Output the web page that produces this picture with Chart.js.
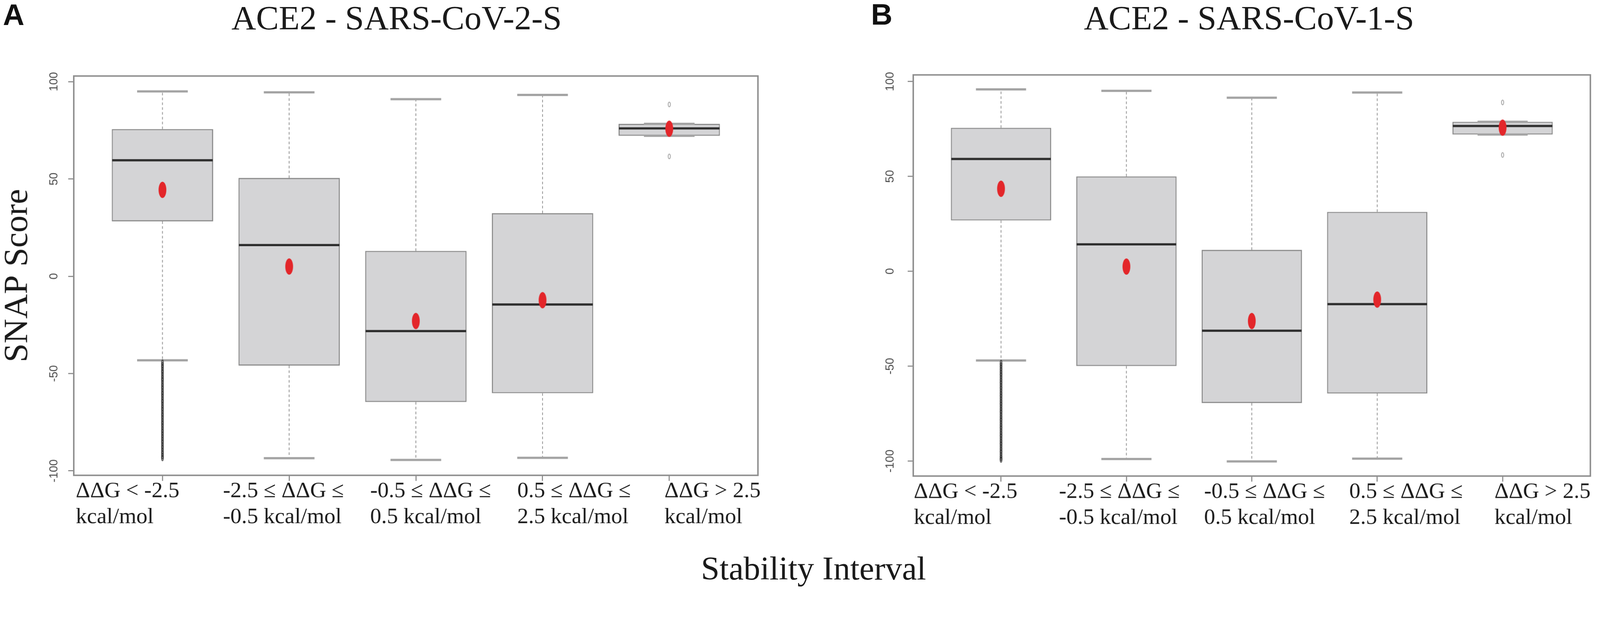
<!DOCTYPE html>
<html>
<head>
<meta charset="utf-8">
<title>ACE2 SNAP score by stability interval</title>
<script src="https://cdn.jsdelivr.net/npm/chart.js@4.4.0/dist/chart.umd.min.js"></script>
<style>
  html, body { margin: 0; padding: 0; background: #fff; overflow: hidden; }
  #stage { position: absolute; left: 0; top: 0; width: 4317px; height: 1602px; transform-origin: 0 0; }
  canvas { position: absolute; top: 0; }
  .txt { position: absolute; white-space: nowrap; line-height: 1; color: #1a1a1a; }
  .serif { font-family: 'Liberation Serif', 'Times New Roman', serif; }
  .panel { font-family: 'Liberation Sans', Arial, sans-serif; font-weight: bold; font-size: 80px; color: #111; }
  .centered { transform: translateX(-50%); }
</style>
</head>
<body>
<div id="stage">
  <canvas id="chartA" width="2140" height="1602" style="left:0px"></canvas>
  <canvas id="chartB" width="2117" height="1602" style="left:2200px"></canvas>

  <div class="txt panel" style="left:8px; top:0px">A</div>
  <div class="txt panel" style="left:2350px; top:-1px">B</div>
  <div class="txt serif centered" style="left:1070px; top:2px; font-size:92px">ACE2 - SARS-CoV-2-S</div>
  <div class="txt serif centered" style="left:3370px; top:2px; font-size:92px">ACE2 - SARS-CoV-1-S</div>
  <div class="txt serif centered" style="left:2195px; top:1488px; font-size:90px">Stability Interval</div>
</div>

<script>
// x categories (positions 1..5) and their two-line labels
const categoryPositions = [1, 2, 3, 4, 5];
const categoryLabels = [
    ['ΔΔG < -2.5', 'kcal/mol'],
    ['-2.5 ≤ ΔΔG ≤', '-0.5 kcal/mol'],
    ['-0.5 ≤ ΔΔG ≤', '0.5 kcal/mol'],
    ['0.5 ≤ ΔΔG ≤', '2.5 kcal/mol'],
    ['ΔΔG > 2.5', 'kcal/mol']
];
const yTickValues = [-100, -50, 0, 50, 100];

// Panel A: ACE2 - SARS-CoV-2-S
const cov2WhiskerLow  = [-43.2, -93.5, -94.4, -93.3, 72.2];
const cov2Q1          = [28.2, -45.9, -64.6, -60.1, 72.2];
const cov2Median      = [59.6, 16.0, -28.2, -14.5, 76.0];
const cov2Q3          = [75.6, 50.5, 13.0, 32.4, 78.3];
const cov2WhiskerHigh = [95.0, 94.5, 91.0, 93.2, 78.3];
const cov2Mean        = [44.4, 5.0, -23.0, -12.3, 75.8];
// outliers below the first box (dense column) and around the last box
const cov2OutliersFirst = [-44.3, -45.6, -46.8, -48.3, -49.5, -51.0, -52.4, -53.6, -55.1, -56.5,
    -57.8, -59.3, -60.6, -62.0, -63.5, -64.7, -66.2, -67.6, -68.9, -70.4, -71.7, -73.1, -74.6,
    -75.9, -77.3, -78.8, -80.1, -81.5, -82.9, -84.3, -85.6, -87.1, -88.4, -89.9, -91.2, -92.5, -93.5];
const cov2OutliersLast = [88.3, 61.6];

// Panel B: ACE2 - SARS-CoV-1-S
const cov1WhiskerLow  = [-47.0, -98.9, -100.2, -98.7, 72.1];
const cov1Q1          = [26.8, -49.9, -69.4, -64.4, 72.1];
const cov1Median      = [59.2, 14.2, -31.3, -17.3, 76.6];
const cov1Q3          = [75.6, 50.0, 11.3, 31.3, 78.8];
const cov1WhiskerHigh = [95.9, 95.1, 91.5, 94.2, 78.8];
const cov1Mean        = [43.5, 2.5, -26.2, -14.9, 75.7];
const cov1OutliersFirst = [-48.2, -49.5, -50.9, -52.3, -53.7, -55.0, -56.5, -57.9, -59.2, -60.7,
    -62.0, -63.5, -64.9, -66.2, -67.7, -69.1, -70.4, -71.9, -73.3, -74.6, -76.1, -77.5, -78.8,
    -80.3, -81.7, -83.0, -84.5, -85.9, -87.2, -88.7, -90.1, -91.4, -92.9, -94.3, -95.6, -97.1,
    -98.4, -99.3];
const cov1OutliersLast = [89.0, 61.3];

// the page is laid out at 4317x1602; shrink it if the window is narrower
const stage = document.getElementById('stage');
const fit = Math.min(1, window.innerWidth / 4317);
stage.style.transform = 'scale(' + fit + ')';

// small canvases used as point styles (the figure was squeezed sideways, so dots are tall ellipses)
function ellipseMark(w, h, fill, stroke, lw) {
    const c = document.createElement('canvas');
    c.width = w + 4;
    c.height = h + 4;
    const g = c.getContext('2d');
    g.beginPath();
    g.ellipse(c.width / 2, c.height / 2, w / 2, h / 2, 0, 0, Math.PI * 2);
    if (fill) { g.fillStyle = fill; g.fill(); }
    if (stroke) { g.lineWidth = lw; g.strokeStyle = stroke; g.stroke(); }
    return c;
}
const meanMark = ellipseMark(21, 44, '#e3262a');
const columnMark = ellipseMark(5, 14, 'rgba(60,60,60,0.35)', 'rgba(30,30,30,0.8)', 1.8);
const outlierMark = ellipseMark(6, 13, null, 'rgba(120,120,120,0.9)', 1.6);

// whiskers, staples and median line, drawn right after the boxes
const boxParts = {
    id: 'boxParts',
    afterDatasetDraw(chart, args) {
        if (args.meta.type !== 'bar') return;
        const ds = chart.data.datasets[args.index];
        const y = chart.scales.y;
        const ctx = chart.ctx;
        ctx.save();
        args.meta.data.forEach((bar, i) => {
            const x = bar.x;
            const half = bar.width / 2;
            const yLo = y.getPixelForValue(ds.whiskerLow[i]);
            const yHi = y.getPixelForValue(ds.whiskerHigh[i]);
            const yQ1 = y.getPixelForValue(ds.data[i].y[0]);
            const yQ3 = y.getPixelForValue(ds.data[i].y[1]);
            const yMed = y.getPixelForValue(ds.medians[i]);

            ctx.setLineDash([7, 6]);
            ctx.lineWidth = 2;
            ctx.strokeStyle = '#8c8c8c';
            ctx.beginPath();
            ctx.moveTo(x, yQ3); ctx.lineTo(x, yHi);
            ctx.moveTo(x, yQ1); ctx.lineTo(x, yLo);
            ctx.stroke();

            ctx.setLineDash([]);
            ctx.lineWidth = 6;
            ctx.strokeStyle = '#a3a3a3';
            ctx.beginPath();
            ctx.moveTo(x - half / 2, yHi); ctx.lineTo(x + half / 2, yHi);
            ctx.moveTo(x - half / 2, yLo); ctx.lineTo(x + half / 2, yLo);
            ctx.stroke();

            ctx.lineWidth = 6;
            ctx.strokeStyle = '#2e2e2e';
            ctx.beginPath();
            ctx.moveTo(x - half + 1, yMed); ctx.lineTo(x + half - 1, yMed);
            ctx.stroke();
        });
        ctx.restore();
    }
};

// plot frame and the vertical (rotated) y tick labels, as R draws them
const frameAndYLabels = {
    id: 'frameAndYLabels',
    afterDraw(chart, args, opts) {
        const {ctx, chartArea} = chart;
        const y = chart.scales.y;
        ctx.save();
        ctx.strokeStyle = '#8e8e8e';
        ctx.lineWidth = 4;
        ctx.strokeRect(chartArea.left, chartArea.top, chartArea.right - chartArea.left, chartArea.bottom - chartArea.top);

        ctx.fillStyle = '#4a4a4a';
        ctx.font = '31px "Liberation Sans", Arial, sans-serif';
        ctx.textAlign = 'center';
        ctx.textBaseline = 'middle';
        y.ticks.forEach(t => {
            ctx.save();
            ctx.translate(chartArea.left - opts.offset, y.getPixelForValue(t.value));
            ctx.rotate(-Math.PI / 2);
            ctx.fillText(String(t.value), 0, 0);
            ctx.restore();
        });
        ctx.restore();
    }
};

function buildPanel(canvasId, p) {
    return new Chart(document.getElementById(canvasId), {
        type: 'bar',
        data: {
            datasets: [
                {
                    type: 'scatter', label: 'mean', order: 1, xAxisID: 'x', yAxisID: 'y',
                    data: p.mean.map((v, i) => ({x: categoryPositions[i], y: v})),
                    pointStyle: meanMark, pointRadius: 11
                },
                {
                    type: 'scatter', label: 'outliers (first)', order: 2, xAxisID: 'x', yAxisID: 'y',
                    data: p.outliersFirst.map(v => ({x: categoryPositions[0], y: v})),
                    pointStyle: columnMark, pointRadius: 4
                },
                {
                    type: 'scatter', label: 'outliers (last)', order: 2, xAxisID: 'x', yAxisID: 'y',
                    data: p.outliersLast.map(v => ({x: categoryPositions[4], y: v})),
                    pointStyle: outlierMark, pointRadius: 4
                },
                {
                    type: 'bar', label: 'IQR', order: 3, xAxisID: 'x', yAxisID: 'y',
                    data: p.q1.map((v, i) => ({x: categoryPositions[i], y: [v, p.q3[i]]})),
                    backgroundColor: '#d4d4d6',
                    borderColor: '#8a8a8a',
                    borderWidth: 3,
                    borderSkipped: false,
                    categoryPercentage: 1,
                    barPercentage: 0.8,
                    medians: p.median,
                    whiskerLow: p.whiskerLow,
                    whiskerHigh: p.whiskerHigh
                }
            ]
        },
        options: {
            responsive: false,
            devicePixelRatio: 1,
            animation: false,
            events: [],
            layout: { padding: p.padding },
            plugins: {
                legend: { display: false },
                tooltip: { enabled: false },
                frameAndYLabels: { offset: p.yLabelOffset }
            },
            scales: {
                x: {
                    type: 'linear', axis: 'x', position: 'bottom', weight: 0,
                    min: 0.3, max: 5.7, offset: false,
                    afterBuildTicks: s => { s.ticks = categoryPositions.map(v => ({value: v})); },
                    afterFit: s => { s.height = 15; },
                    ticks: { display: false },
                    grid: { offset: false, drawOnChartArea: false, drawTicks: true, tickLength: 15, color: '#8c8c8c', lineWidth: 3 },
                    border: { display: false }
                },
                xl: {
                    type: 'linear', axis: 'x', position: 'bottom', weight: 1,
                    min: p.labelMin, max: p.labelMax, offset: false,
                    afterBuildTicks: s => { s.ticks = categoryPositions.map(v => ({value: v})); },
                    afterFit: s => { s.height = 150; },
                    ticks: {
                        autoSkip: false, minRotation: 0, maxRotation: 0, align: 'start', padding: -7,
                        color: '#1a1a1a',
                        font: { family: 'Liberation Serif', size: 60, lineHeight: 1.167 },
                        callback: (value, index) => categoryLabels[index]
                    },
                    grid: { display: false, drawTicks: false, offset: false },
                    border: { display: false }
                },
                y: {
                    type: 'linear', position: 'left',
                    min: p.yMin, max: p.yMax,
                    afterBuildTicks: s => { s.ticks = yTickValues.map(v => ({value: v})); },
                    afterFit: s => { s.width = p.axisWidth; },
                    ticks: { display: false },
                    grid: { drawOnChartArea: false, drawTicks: true, tickLength: 15, color: '#8c8c8c', lineWidth: 3 },
                    border: { display: false },
                    title: p.yTitle ? {
                        display: true, text: p.yTitle, color: '#1a1a1a',
                        font: { family: 'Liberation Serif', size: 92, lineHeight: 1 },
                        padding: { top: 3, bottom: 0 }
                    } : { display: false }
                }
            }
        },
        plugins: [boxParts, frameAndYLabels]
    });
}

buildPanel('chartA', {
    whiskerLow: cov2WhiskerLow, q1: cov2Q1, median: cov2Median, q3: cov2Q3,
    whiskerHigh: cov2WhiskerHigh, mean: cov2Mean,
    outliersFirst: cov2OutliersFirst, outliersLast: cov2OutliersLast,
    yMin: -102.3, yMax: 102.9,
    labelMin: 0.986, labelMax: 5.635,
    axisWidth: 199, yLabelOffset: 53,
    padding: { left: 0, top: 205, right: 95, bottom: 155 },
    yTitle: 'SNAP Score'
});

buildPanel('chartB', {
    whiskerLow: cov1WhiskerLow, q1: cov1Q1, median: cov1Median, q3: cov1Q3,
    whiskerHigh: cov1WhiskerHigh, mean: cov1Mean,
    outliersFirst: cov1OutliersFirst, outliersLast: cov1OutliersLast,
    yMin: -107.9, yMax: 103.5,
    labelMin: 0.996, labelMax: 5.661,
    axisWidth: 264, yLabelOffset: 62,
    padding: { left: 0, top: 202, right: 26, bottom: 153 },
    yTitle: null
});
</script>
</body>
</html>
